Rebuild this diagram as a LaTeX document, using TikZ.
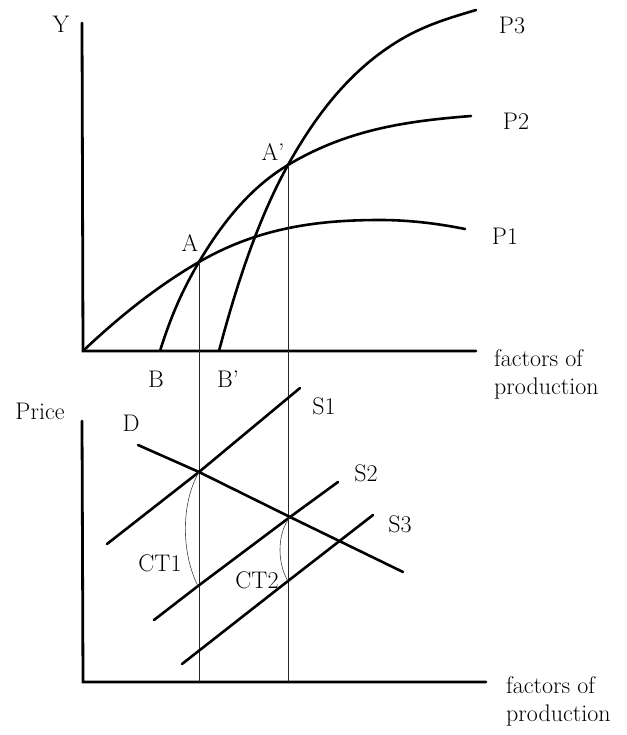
\documentclass[tikz,border=0pt]{standalone}
\usepackage{fontspec}
\usepackage{tikz}
\usetikzlibrary{calc}
\tikzset{
  axis/.style={line width=2.8pt, line cap=round},
  curve/.style={line width=2.6pt, line cap=round},
  guide/.style={line width=0.7pt, draw=black!85},
  arcline/.style={line width=0.6pt, draw=black!75},
  lbl/.style={inner sep=0pt, font=\fontsize{24}{28}\selectfont},
  axislbl/.style={inner sep=0pt, align=left, anchor=west, font=\fontsize{24}{28}\selectfont}
}

\begin{document}
\begin{tikzpicture}[x=1pt, y=-1pt]
\useasboundingbox (0,0) rectangle (626,735);
% upper panel
\coordinate (O) at (83,351);
\coordinate (B) at (160,351);
\coordinate (Bp) at (219,351);
\coordinate (A) at (199,262);
\coordinate (Ap) at (288,165);
\draw[axis] (82,23) -- (O) -- (476,351);
\draw[curve] (O) .. controls (121.7,314.2) and (160.3,284.4) .. (A)
  .. controls (259.3,227) and (319.7,220) .. (380,220)
  .. controls (408.3,220) and (436.7,223.3) .. (465,229);
\draw[curve] (B) .. controls (173,309.4) and (186,284.1) .. (A)
  .. controls (228.7,211.6) and (258.3,182.8) .. (Ap)
  .. controls (349,128.4) and (410,120.9) .. (471,116);
\draw[curve] (Bp) .. controls (242,263.6) and (265,206.4) .. (Ap)
  .. controls (325.3,97.8) and (362.7,62.4) .. (400,40)
  .. controls (425.3,24.8) and (450.7,17.6) .. (476,10);
\node[lbl] (ylbl) at (61,24) {Y};
\node[lbl] (albl) at (190,243) {A};
\node[lbl] (aplbl) at (273,152) {A'};
\node[lbl] (blbl) at (156,379) {B};
\node[lbl] (bplbl) at (228,379) {B'};
\node[lbl] (p1) at (505,236) {P1};
\node[lbl] (p2) at (516,121) {P2};
\node[lbl] (p3) at (512,25) {P3};
\node[axislbl] (fop1) at (494,374) {factors of\\production};
% lower panel
\coordinate (O2) at (83,682);
\coordinate (E1) at (199,472);
\coordinate (E2) at (290,517);
\coordinate (C1) at (198,586);
\coordinate (C2) at (288,581);
\draw[axis] (82,421) -- (O2) -- (486,682);
\draw[guide] (A) -- (A |- O2);
\draw[guide] (Ap) -- (Ap |- O2);
\draw[curve] (138,445) -- (E1) -- (E2) -- (403,572);
\draw[curve] (107,544) -- (E1) -- (300,388);
\draw[curve] (154,620) -- (C1) -- (E2) -- (338,482);
\draw[curve] (182,664) -- (C2) -- (373,515);
\draw[arcline] (E1) .. controls (180,505) and (182,555) .. (C1);
\draw[arcline] (E2) .. controls (276,535) and (278,565) .. (C2);
\node[lbl] (price) at (40,411) {Price};
\node[lbl] (dlbl) at (131,423) {D};
\node[lbl] (s1) at (324,406) {S1};
\node[lbl] (s2) at (366,473) {S2};
\node[lbl] (s3) at (400,524) {S3};
\node[lbl] (ct1) at (160,563) {CT1};
\node[lbl] (ct2) at (257,580) {CT2};
\node[axislbl] (fop2) at (506,701) {factors of\\production};
\end{tikzpicture}
\end{document}
